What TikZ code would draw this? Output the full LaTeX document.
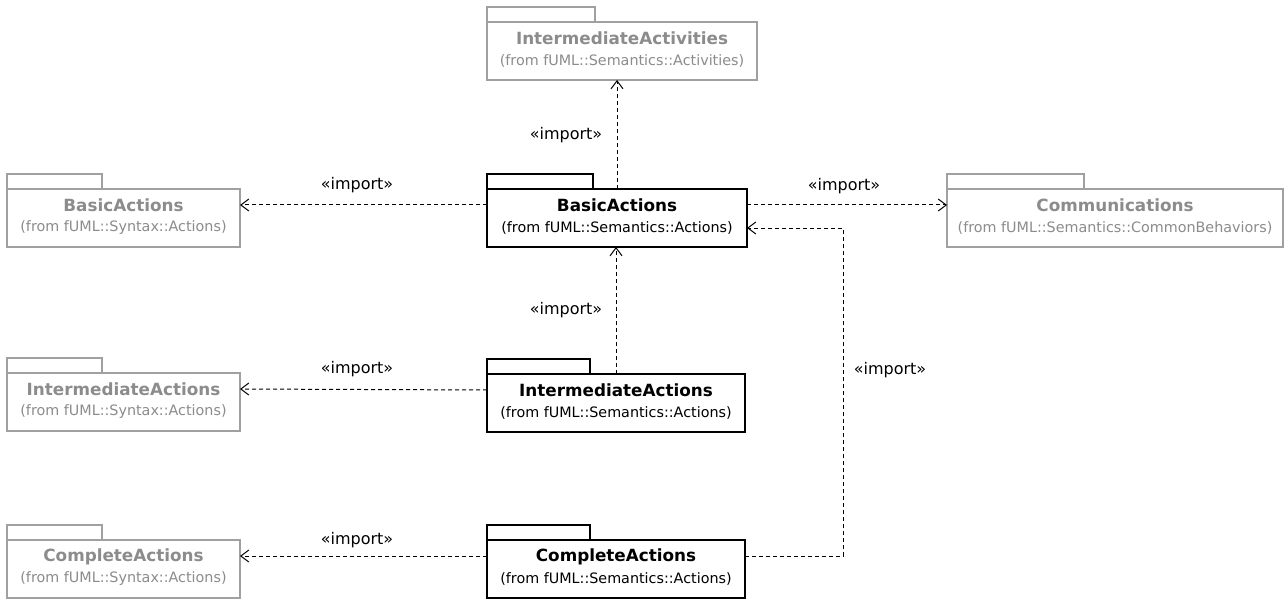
\documentclass[tikz,border=0pt]{standalone}
\usepackage{fontspec}
\setmainfont{DejaVu Sans}
\usetikzlibrary{arrows.meta}
\definecolor{grline}{HTML}{A0A0A0}
\definecolor{grtext}{HTML}{8C8C8C}
\newcommand\umlpkg[9]{%
  \node[pkgbox, draw=#7, minimum width=#4*0.75pt, minimum height=#5*0.75pt] (#1) at (#2,#3) {};
  \node[pkgbox, draw=#7, minimum width=#6*0.75pt, minimum height=15*0.75pt, anchor=south west] (#1tab) at (#1.north west) {};
  \node[titletext, text=#8] (#1title) at ([yshift=-12.5pt]#1.north) {#9};
}
\newcommand\umlfrom[3]{%
  \node[fromtext, text=#2] (#1from) at ([yshift=-29.25pt]#1.north) {#3};
}
\begin{document}
\begin{tikzpicture}[x=0.75pt,y=-0.75pt,
  pkgbox/.style={draw, line width=1pt, inner sep=0pt, outer sep=0pt, anchor=north west, fill=white},
  titletext/.style={font=\fontsize{12.6}{14}\selectfont\bfseries, inner sep=0pt},
  fromtext/.style={font=\fontsize{10.75}{13}\selectfont, inner sep=0pt},
  dep/.style={draw, line width=0.75pt, dash pattern=on 3pt off 2.25pt, -{Straight Barb[length=6pt,width=9pt]}},
  lbl/.style={font=\fontsize{12}{14}\selectfont, inner sep=0pt}]
\useasboundingbox (0,0) rectangle (1285,599);
\umlpkg{iact}{487}{22}{270}{58}{108}{grline}{grtext}{IntermediateActivities}
\umlfrom{iact}{grtext}{(from fUML::Semantics::Activities)}
\umlpkg{bsyn}{7}{189}{233}{58}{95}{grline}{grtext}{BasicActions}
\umlfrom{bsyn}{grtext}{(from fUML::Syntax::Actions)}
\umlpkg{bas}{487}{189}{260}{58}{106}{black}{black}{BasicActions}
\umlfrom{bas}{black}{(from fUML::Semantics::Actions)}
\umlpkg{comm}{947}{189}{336}{58}{137}{grline}{grtext}{Communications}
\umlfrom{comm}{grtext}{(from fUML::Semantics::CommonBehaviors)}
\umlpkg{isyn}{7}{373}{233}{58}{95}{grline}{grtext}{IntermediateActions}
\umlfrom{isyn}{grtext}{(from fUML::Syntax::Actions)}
\umlpkg{isem}{487}{374}{258}{58}{103}{black}{black}{IntermediateActions}
\umlfrom{isem}{black}{(from fUML::Semantics::Actions)}
\umlpkg{csyn}{7}{540}{233}{58}{95}{grline}{grtext}{CompleteActions}
\umlfrom{csyn}{grtext}{(from fUML::Syntax::Actions)}
\umlpkg{csem}{487}{540}{258}{58}{103}{black}{black}{CompleteActions}
\umlfrom{csem}{black}{(from fUML::Semantics::Actions)}
% connectors
\draw[dep] (bas.north) -- (bas.north |- iact.south);
\draw[dep] ([yshift=9.75pt]bas.west) -- ([yshift=9.75pt]bsyn.east);
\draw[dep] ([yshift=9.75pt]bas.east) -- ([yshift=9.75pt]comm.west);
\draw[dep] (isem.north) -- (isem.north |- bas.south);
\draw[dep] ([yshift=9.75pt]isem.west) -- ([yshift=9.75pt]isyn.east);
\draw[dep] ([yshift=9.75pt]csem.west) -- ([yshift=9.75pt]csyn.east);
\draw[dep] ([yshift=9.75pt]csem.east) -- ++(98,0) |- ([yshift=-7.5pt]bas.east);
% labels
\node[lbl] (l1) at (566,135) {«import»};
\node[lbl] (l2) at (357,185) {«import»};
\node[lbl] (l3) at (844,186) {«import»};
\node[lbl] (l4) at (566,310) {«import»};
\node[lbl] (l5) at (357,369) {«import»};
\node[lbl] (l6) at (357,540) {«import»};
\node[lbl] (l7) at (890,370) {«import»};
\end{tikzpicture}
\end{document}
